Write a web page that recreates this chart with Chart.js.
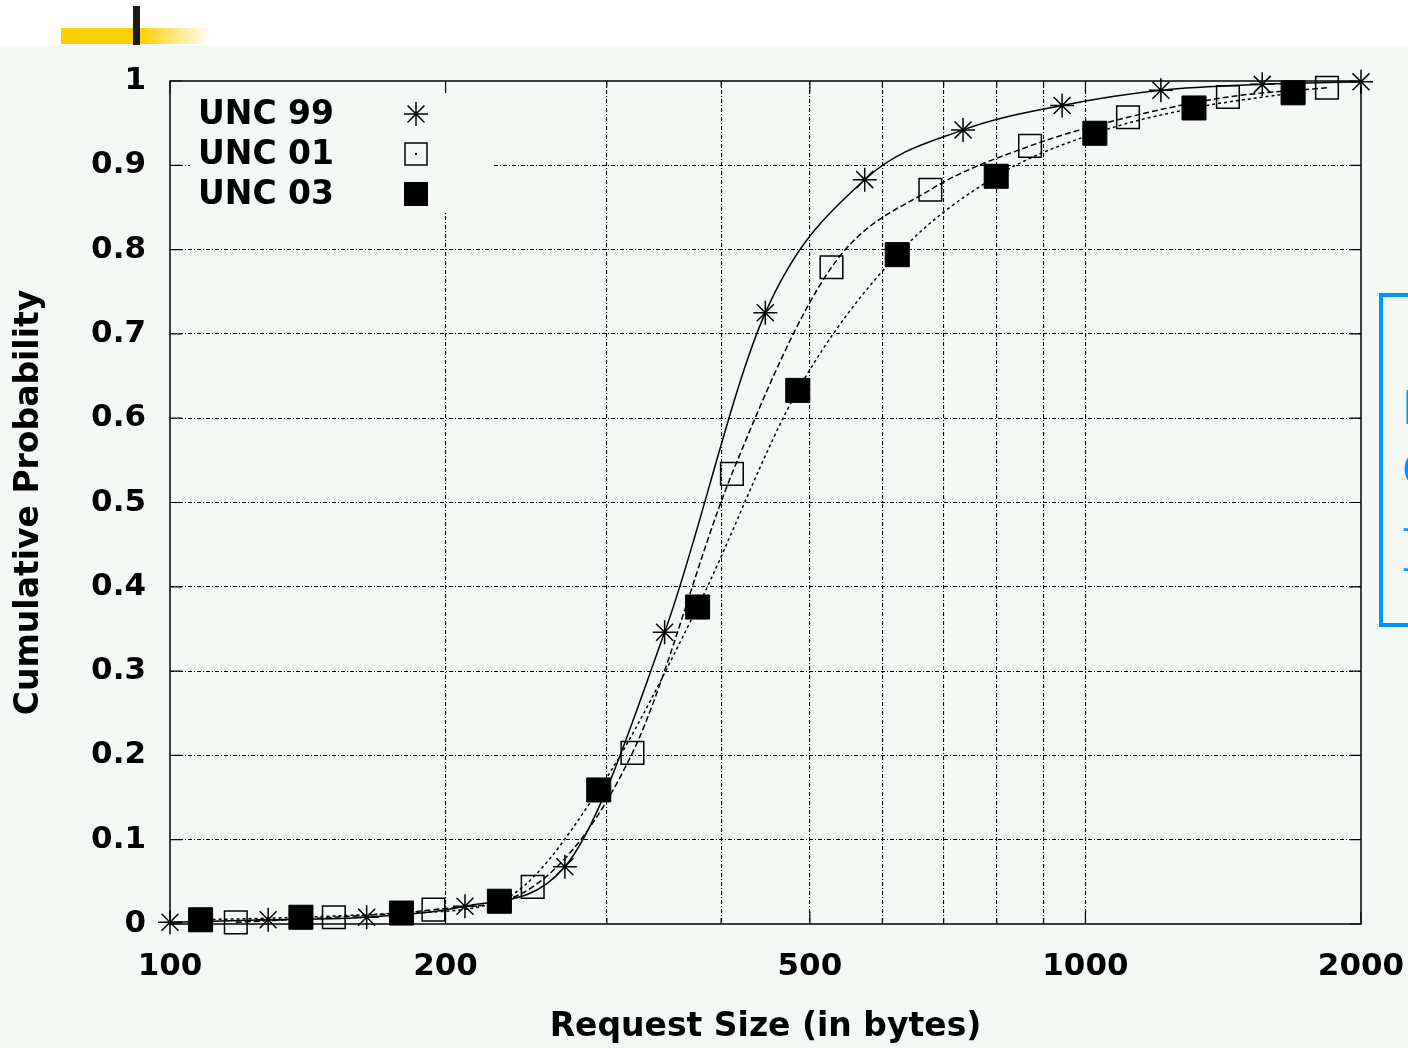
<!DOCTYPE html>
<html>
<head>
<meta charset="utf-8">
<script src="https://cdn.jsdelivr.net/npm/chart.js@4.4.1/dist/chart.umd.min.js"></script>
<style>
  html, body { margin: 0; padding: 0; width: 1408px; height: 1048px; overflow: hidden; background: #ffffff; }
  #band { position: absolute; left: 0; top: 45px; width: 1408px; height: 1003px; background: #f5f9f6; }
  #gold { position: absolute; left: 61px; top: 28px; width: 150px; height: 16px;
          background: linear-gradient(to right, #ffd000 0%, #ffd000 52%, rgba(255,208,0,0) 100%); }
  #rule { position: absolute; left: 133px; top: 6px; width: 7px; height: 39px; background: #1a1a1a; }
  #cv { position: absolute; left: 0; top: 45px; }
  #note { position: absolute; left: 1379px; top: 293px; width: 420px; height: 334px; box-sizing: border-box;
          border: 4px solid #0096ff; }
  #note span { position: absolute; left: 19px; color: #0096ff; font-family: "DejaVu Sans", sans-serif; white-space: nowrap; }
</style>
</head>
<body>
<div id="band"></div>
<div id="gold"></div>
<div id="rule"></div>
<canvas id="cv" width="1408" height="1003"></canvas>
<div id="note">
  <span style="top:84px;font-size:46px;">Mostly small</span>
  <span style="top:146px;font-size:46px;">Cutoff</span>
  <span style="top:210px;font-size:34px;">- requests</span>
  <span style="top:250px;font-size:34px;">- bytes</span>
</div>
<script>
// Request size (bytes) and cumulative probability for each trace
const unc99X = [100, 128, 164, 210, 270, 347, 447, 574, 735, 943, 1209, 1560, 2000];
const unc99Y = [0.002, 0.005, 0.008, 0.021, 0.068, 0.346, 0.725, 0.883, 0.942, 0.971, 0.989, 0.996, 0.999];

const unc01X = [118, 151, 194, 249, 320, 411, 528, 677, 870, 1113, 1431, 1836];
const unc01Y = [0.002, 0.008, 0.017, 0.044, 0.203, 0.534, 0.779, 0.871, 0.923, 0.957, 0.981, 0.992];

const unc03X = [108, 139, 179, 229, 294, 377, 485, 623, 799, 1024, 1314, 1686];
const unc03Y = [0.005, 0.008, 0.013, 0.027, 0.159, 0.376, 0.633, 0.794, 0.887, 0.938, 0.968, 0.986];

const seriesNames = ['UNC 99', 'UNC 01', 'UNC 03'];

// Axis ticks
const xTickLabels = [100, 200, 500, 1000, 2000];
const xGridValues = [200, 300, 400, 500, 600, 700, 800, 900, 1000];
const yTickValues = [0, 0.1, 0.2, 0.3, 0.4, 0.5, 0.6, 0.7, 0.8, 0.9, 1];
const yTickLabels = ['0', '0.1', '0.2', '0.3', '0.4', '0.5', '0.6', '0.7', '0.8', '0.9', '1'];

const BG = '#f5f9f6';
const FONT = 'DejaVu Sans';
const GRID_DASH = [4, 2, 1, 2];

const toPoints = (xs, ys) => xs.map((x, i) => ({ x: x, y: ys[i] }));

// Frame, inward tick marks and the boxed key in the upper-left corner
const framePlugin = {
  id: 'frame',
  beforeDatasetsDraw(chart) {
    const { ctx, chartArea: a, scales } = chart;
    ctx.save();
    // key box hides the grid behind it
    const kx = a.left + 20, ky = a.top + 12, kw = 304, kh = 120;
    ctx.fillStyle = BG;
    ctx.fillRect(kx, ky, kw, kh);

    // solid tick marks on all four sides
    ctx.strokeStyle = '#000';
    ctx.lineWidth = 1.2;
    ctx.setLineDash([]);
    ctx.beginPath();
    xGridValues.concat([100, 2000]).forEach(v => {
      const px = scales.x.getPixelForValue(v);
      const len = xTickLabels.includes(v) ? 12 : 6;
      ctx.moveTo(px, a.bottom); ctx.lineTo(px, a.bottom - len);
      ctx.moveTo(px, a.top); ctx.lineTo(px, a.top + len);
    });
    yTickValues.forEach(v => {
      const py = scales.y.getPixelForValue(v);
      ctx.moveTo(a.left, py); ctx.lineTo(a.left + 12, py);
      ctx.moveTo(a.right, py); ctx.lineTo(a.right - 12, py);
    });
    ctx.stroke();

    // frame
    ctx.lineWidth = 1.6;
    ctx.strokeStyle = '#111';
    ctx.strokeRect(a.left, a.top, a.right - a.left, a.bottom - a.top);

    // key entries
    ctx.fillStyle = '#000';
    ctx.font = 'bold 33px "' + FONT + '"';
    ctx.textAlign = 'left';
    ctx.textBaseline = 'alphabetic';
    const mx = a.left + 246;
    seriesNames.forEach((name, i) => {
      const cy = a.top + 33 + i * 40;
      ctx.fillText(name, a.left + 28, cy + 10);
      ctx.lineWidth = 1.5;
      ctx.strokeStyle = '#000';
      if (i === 0) {
        const r = 12;
        ctx.beginPath();
        for (let k = 0; k < 4; k++) {
          const ang = k * Math.PI / 4;
          ctx.moveTo(mx - r * Math.cos(ang), cy - r * Math.sin(ang));
          ctx.lineTo(mx + r * Math.cos(ang), cy + r * Math.sin(ang));
        }
        ctx.stroke();
      } else if (i === 1) {
        ctx.strokeRect(mx - 11, cy - 11, 22, 22);
        ctx.fillRect(mx - 1, cy - 1, 2, 2);
      } else {
        ctx.fillRect(mx - 12, cy - 12, 24, 24);
      }
    });
    ctx.restore();
  }
};

new Chart(document.getElementById('cv'), {
  type: 'line',
  data: {
    datasets: [
      {
        label: seriesNames[0],
        data: toPoints(unc99X, unc99Y),
        borderColor: '#000', borderWidth: 1.5, borderDash: [],
        cubicInterpolationMode: 'monotone',
        pointStyle: 'star', pointRadius: 12, pointBorderWidth: 1.5,
        pointBorderColor: '#000', pointBackgroundColor: 'rgba(0,0,0,0)',
        fill: false, clip: false
      },
      {
        label: seriesNames[1],
        data: toPoints(unc01X, unc01Y),
        borderColor: '#000', borderWidth: 1.5, borderDash: [6, 3],
        cubicInterpolationMode: 'monotone',
        pointStyle: 'rect', pointRadius: 16, pointBorderWidth: 1.5,
        pointBorderColor: '#000', pointBackgroundColor: 'rgba(0,0,0,0)',
        fill: false, clip: false
      },
      {
        label: seriesNames[2],
        data: toPoints(unc03X, unc03Y),
        borderColor: '#000', borderWidth: 1.5, borderDash: [3, 3],
        cubicInterpolationMode: 'monotone',
        pointStyle: 'rect', pointRadius: 17, pointBorderWidth: 1,
        pointBorderColor: '#000', pointBackgroundColor: '#000',
        fill: false, clip: false
      }
    ]
  },
  options: {
    responsive: false,
    animation: false,
    devicePixelRatio: 1,
    layout: { padding: { top: 36, right: 47, left: 0, bottom: 0 } },
    plugins: { legend: { display: false }, tooltip: { enabled: false } },
    scales: {
      x: {
        type: 'logarithmic', min: 100, max: 2000,
        afterBuildTicks: s => {
          const vals = Array.from(new Set(xTickLabels.concat(xGridValues))).sort((p, q) => p - q);
          s.ticks = vals.map(v => ({ value: v }));
        },
        afterFit: s => { s.height = 124; s.paddingLeft = 0; s.paddingRight = 0; },
        ticks: {
          autoSkip: false, maxRotation: 0, padding: 24, color: '#000',
          font: { family: FONT, size: 31, weight: 'bold' },
          callback: v => xTickLabels.includes(v) ? String(v) : ''
        },
        grid: {
          drawTicks: false, lineWidth: 1.1,
          color: c => (c.tick && xGridValues.includes(c.tick.value)) ? '#000' : 'rgba(0,0,0,0)'
        },
        border: { display: false, dash: GRID_DASH },
        title: {
          display: true, text: 'Request Size (in bytes)', color: '#000',
          font: { family: FONT, size: 33, weight: 'bold' },
          padding: { top: 0, bottom: 1 }
        }
      },
      y: {
        type: 'linear', min: 0, max: 1,
        afterBuildTicks: s => { s.ticks = yTickValues.map(v => ({ value: v })); },
        afterFit: s => { s.width = 170; s.paddingTop = 0; s.paddingBottom = 0; },
        ticks: {
          autoSkip: false, padding: 24, color: '#000',
          font: { family: FONT, size: 31, weight: 'bold' },
          callback: (v, i) => yTickLabels[i]
        },
        grid: {
          drawTicks: false, lineWidth: 1.1,
          color: c => (c.tick && c.tick.value > 0 && c.tick.value < 1) ? '#000' : 'rgba(0,0,0,0)'
        },
        border: { display: false, dash: GRID_DASH },
        title: {
          display: true, text: 'Cumulative Probability', color: '#000',
          font: { family: FONT, size: 33, weight: 'bold' },
          padding: { top: 10, bottom: 0 }
        }
      }
    }
  },
  plugins: [framePlugin]
});
</script>
</body>
</html>
